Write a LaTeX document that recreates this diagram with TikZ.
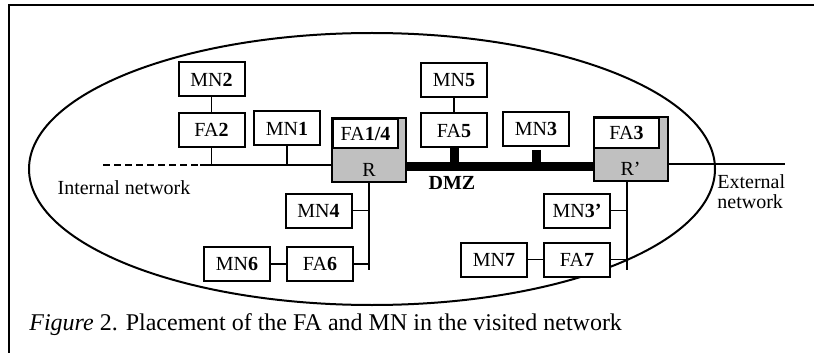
\documentclass[tikz,border=0pt]{standalone}
\usepackage{fontspec}
\setmainfont{Liberation Serif}
\usepackage{tikz}
\usetikzlibrary{positioning,calc}
\definecolor{RGray}{RGB}{192,192,192}
\definecolor{LineDark}{RGB}{0,0,0}
\tikzset{
  nbox/.style={draw=LineDark,fill=white,line width=1pt,minimum width=33pt,minimum height=17pt,inner sep=0pt,font=\fontsize{10}{12}\selectfont},
  rbox/.style={draw=LineDark,fill=RGray,line width=1pt,minimum width=37pt,minimum height=32pt,inner sep=0pt},
  lan/.style={LineDark,line width=0.8pt},
  dmz/.style={LineDark,line width=4.5pt},
  lbl/.style={font=\fontsize{10}{12}\selectfont,inner sep=0pt},
}
\begin{document}
\begin{tikzpicture}[x=0.5pt,y=-0.5pt]
        \useasboundingbox (0,0) rectangle (814,353);
        \draw[line width=0.6pt] (814,5) -- (9,5) -- (9,353);
        \draw[line width=1pt] (372,169) ellipse [x radius=171.5pt,y radius=68pt];
        % routers
        \node[rbox] (r)  at (369,150) {};
        \node[rbox] (rp) at (630.5,149) {};
        \node[lbl,above=3pt of r.south] {R};
        \node[lbl,above=3pt of rp.south] {R'};
        \node[nbox,minimum width=32.5pt,minimum height=14.5pt,anchor=north west] (fa14) at (332,118) {FA\textbf{1/4}};
        \node[nbox,minimum width=32.5pt,minimum height=15pt,anchor=north west] (fa3) at (593,117) {FA\textbf{3}};
        % hosts
        \node[nbox] (mn2)  at (211.5,79.5) {MN\textbf{2}};
        \node[nbox] (fa2)  at (211.5,130)  {FA\textbf{2}};
        \node[nbox] (mn1)  at (287,128.5)  {MN\textbf{1}};
        \node[nbox] (mn5)  at (454,80)     {MN\textbf{5}};
        \node[nbox] (fa5)  at (454,130.5)  {FA\textbf{5}};
        \node[nbox] (mn3)  at (536,129)    {MN\textbf{3}};
        \node[nbox] (mn4)  at (318.5,210.5){MN\textbf{4}};
        \node[nbox] (mn6)  at (237,264)    {MN\textbf{6}};
        \node[nbox] (fa6)  at (320,264)    {FA\textbf{6}};
        \node[nbox] (mn3p) at (577,210.5)  {MN\textbf{3'}};
        \node[nbox] (mn7)  at (494,259.5)  {MN\textbf{7}};
        \node[nbox] (fa7)  at (577,259.5)  {FA\textbf{7}};
        % line ends
        \coordinate (inl) at (103,165); \coordinate (inm) at (200,165);
        \coordinate (dz) at (500,166.5); \coordinate (ext) at (785,164);
        \coordinate (rdown) at (369,270); \coordinate (rpdown) at (627,270);
        % links
        \draw[lan,dash pattern=on 3.5pt off 2pt] (inl) -- (inm);
        \draw[lan] (inm) -- (inm -| r.west);
        \draw[lan] (fa2) -- (fa2 |- inm); \draw[lan] (mn1) -- (mn1 |- inm);
        \draw[lan] (mn2) -- (fa2);
        \draw[lan] (mn5) -- (fa5);
        \draw[dmz] (dz -| r.east) -- (dz -| rp.west);
        \draw[dmz] (fa5.south) -- (fa5 |- dz);
        \draw[dmz,shorten <=1.5pt] (mn3.south) -- (mn3 |- dz);
        \draw[lan] (ext -| rp.east) -- (ext);
        \draw[lan] (r.south) -- (rdown);
        \draw[lan] (mn4.east) -- (mn4 -| rdown); \draw[lan] (fa6.east) -- (fa6 -| rdown);
        \draw[lan] (mn6) -- (fa6);
        \draw[lan] (rpdown |- rp.south) -- (rpdown);
        \draw[lan] (mn3p.east) -- (mn3p -| rpdown); \draw[lan] (fa7.east) -- (fa7 -| rpdown);
        \draw[lan] (mn7) -- (fa7);
        % labels
        \node[lbl] (inet) at (124,188) {Internal network};
        \node[lbl,font=\fontsize{10}{12}\selectfont\bfseries] (dmzl) at (452,183) {DMZ};
        \node[lbl,anchor=west,align=left,font=\fontsize{10}{10}\selectfont] (enet) at (717,192) {External\\network};
        \node[anchor=west,inner sep=0pt,font=\fontsize{12}{14}\selectfont] (cap) at (29,325) {\textit{Figure} 2. Placement of the FA and MN in the visited network};
      \end{tikzpicture}
\end{document}
